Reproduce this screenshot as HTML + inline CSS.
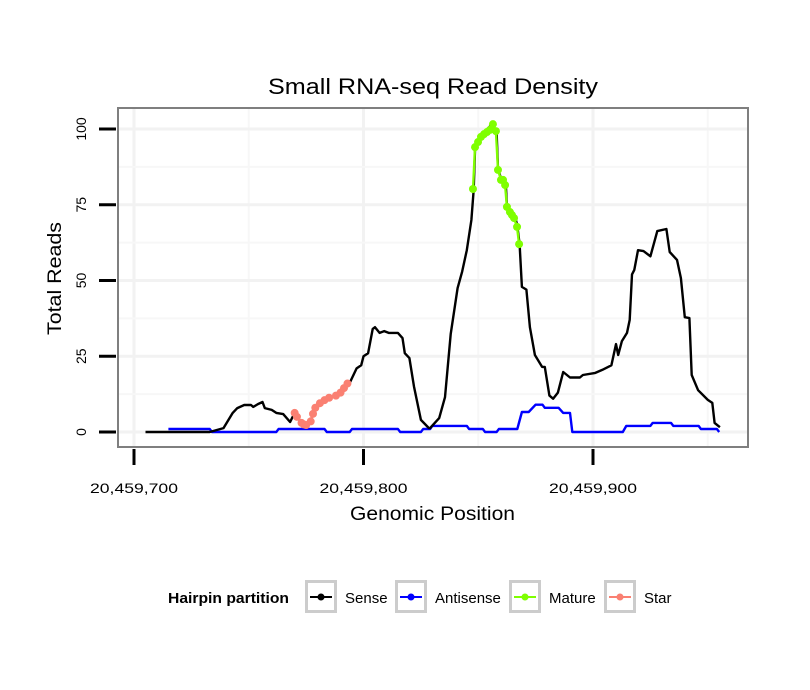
<!DOCTYPE html>
<html><head><meta charset="utf-8"><style>
html,body{margin:0;padding:0;background:#fff;}
svg{display:block;font-family:"Liberation Sans",sans-serif;}
</style></head><body>
<svg id="chart" width="810" height="690" viewBox="0 0 810 690">
<rect width="810" height="690" fill="#fff"/>
<text x="268" y="94" font-size="22" textLength="330" lengthAdjust="spacingAndGlyphs">Small RNA-seq Read Density</text>
<g id="grid"></g>
<g id="series"></g>
<rect x="118" y="108" width="630" height="339" fill="none" stroke="#7f7f7f" stroke-width="2"/>
<g id="axes"></g>
<text x="350" y="520" font-size="19" textLength="165" lengthAdjust="spacingAndGlyphs">Genomic Position</text>
<text transform="translate(61,335) rotate(-90)" font-size="19" textLength="113" lengthAdjust="spacingAndGlyphs">Total Reads</text>
<g id="legend">
<text x="168" y="603" font-size="15" font-weight="bold" textLength="121" lengthAdjust="spacingAndGlyphs">Hairpin partition</text>
</g>
</svg>
<script>
const xBase = 20459700;
const xTicks = [0, 100, 200];
const xTickLabels = ["20,459,700", "20,459,800", "20,459,900"];
const yTicks = [0, 25, 50, 75, 100];
const yTickLabels = ["0", "25", "50", "75", "100"];
const sensePos = [5,33,39,43,45,48,51,52,54,56,57,60,62,65,68,70,71,73,74,75,77,78,79,81,83,85,88,90,91.5,93,94,97,99,100,102,104,105,107,109,111,115,117,118,120,122,125,128.5,129,133,135.5,138,141,143,145,147,148,148.6,151,156,158,158.6,160,162,162.5,166,167,168,169,171,172.5,174.7,177.8,179,181,182.6,184.7,187,190,194.3,195.6,201,204,208,210,211,212.6,214.8,216,217,218,219.6,222,225,228,232,233.4,236.6,238.3,240,242,243,245.8,250,252,253,255.3];
const senseVal = [0,0,1.3,6.3,7.9,8.9,8.9,8.3,9.2,9.9,7.9,7.3,6.3,5.9,3.3,6.3,5,3,2.5,2.3,3.5,6,8,9.5,10.5,11.3,12,13,14.5,16,16.2,21,22,25,26,34,34.6,32.7,33.3,32.7,32.7,31,26,24.4,15,4,1.3,1.3,4.6,11.5,32.3,47.5,53,60,70,80,93,97.7,101.6,99,86.8,83.5,81.8,74.6,71.3,68,62,47.9,47,34.6,25.4,21.5,21.5,12,11,13,19.8,18,18,18.8,19.5,20.5,22,29,25.4,30,32.7,37,52,53.5,60,59.7,58,66.3,67,59.4,56.8,50.8,37.9,37.6,18.8,13.8,10.6,9.6,3,1.6];
const antiPos = [15,33,34,62,63,83,84,94,95,115,116,125,126,129,130,145,146,152,153,158,159,167,169,172,175,178,179,185,187,190,191,213,214.5,225,226,234,235,246,247,254,255];
const antiVal = [1,1,0,0,1,1,0,0,1,1,0,0,1,1,2,2,1,1,0,0,1,1,6.6,6.6,9,9,8,8,6.3,6.3,0,0,2,2,3,3,2,2,1,1,0];
const maturePos = [147.7,148.6,149.9,151.2,152.5,153.8,155.1,156.4,157.7,158.6,159.9,160.8,161.7,162.5,163.8,164.7,165.6,166.9,167.8];
const matureVal = [80.2,94,95.7,97.4,98.3,99,99.7,101.6,99.3,86.5,83.2,83.2,81.5,74.3,72.6,71.6,70.6,67.7,62];
const starPos = [70,71,73,74,75,77,78,79,81,83,85,88,90,91.5,93];
const starVal = [6.3,5,3,2.5,2.3,3.5,6,8,9.5,10.5,11.3,12,13,14.5,16];
const legendLabels = ["Sense","Antisense","Mature","Star"];
const legendColors = ["#000000","#0000ff","#7fff00","#fa8072"];

const NS = "http://www.w3.org/2000/svg";
const X0 = 134, XS = 2.295, Y0 = 432, YS = 3.03;
function xs(p){ return X0 + p*XS; }
function ys(v){ return Y0 - v*YS; }
function mk(tag, attrs, parent){ const e=document.createElementNS(NS,tag); for(const k in attrs) e.setAttribute(k,attrs[k]); parent.appendChild(e); return e; }

const grid = document.getElementById('grid');
for (let i=0;i<xTicks.length;i++){
  for (const off of [0,50]){
    const x = xs(xTicks[i]+off);
    if (x>748) continue;
    const l = mk('line',{x1:x,x2:x,y1:109,y2:446,stroke:off?'#f7f7f7':'#f2f2f2','stroke-width':off?2:3},grid);
    
    
  }
}
for (let i=0;i<yTicks.length;i++){
  for (const off of [0,12.5]){
    const y = ys(yTicks[i]+off);
    if (y<109) continue;
    const l = mk('line',{x1:119,x2:747,y1:y,y2:y,stroke:off?'#f7f7f7':'#f2f2f2','stroke-width':off?2:3},grid);
    
    
  }
}

const series = document.getElementById('series');
function line(pos, val, color, name){
  const pts = pos.map((p,i)=>xs(p).toFixed(1)+','+ys(val[i]).toFixed(1)).join(' ');
  const pl = mk('polyline',{points:pts,fill:'none',stroke:color,'stroke-width':2.4,'stroke-linejoin':'round'},series);
  
  
}
function dots(pos, val, color, name){
  pos.forEach((p,i)=>{
    const c = mk('circle',{cx:xs(p),cy:ys(val[i]),r:4,fill:color},series);
    
    
  });
}
line(antiPos, antiVal, '#0000ff', 'antisense-line');
line(sensePos, senseVal, '#000000', 'sense-line');
line(starPos, starVal, '#fa8072', 'star-line');
dots(starPos, starVal, '#fa8072', 'star-point');
line(maturePos, matureVal, '#7fff00', 'mature-line');
dots(maturePos, matureVal, '#7fff00', 'mature-point');

const axes = document.getElementById('axes');
xTicks.forEach((t,i)=>{
  const x = xs(t);
  const l = mk('line',{x1:x,x2:x,y1:449,y2:465,stroke:'#000','stroke-width':3},axes);
  
  
  const tx = mk('text',{x:x-44,y:493,'font-size':14,textLength:88,lengthAdjust:'spacingAndGlyphs'},axes);
  tx.textContent = xTickLabels[i];
  
  
});
yTicks.forEach((t,i)=>{
  const y = ys(t);
  const l = mk('line',{x1:99,x2:116,y1:y,y2:y,stroke:'#000','stroke-width':3},axes);
  
  
  const tx = mk('text',{transform:'translate(86,'+y+') rotate(-90)','font-size':14,'text-anchor':'middle'},axes);
  tx.textContent = yTickLabels[i];
  
  
});

const legend = document.getElementById('legend');
const boxX = [305,395,509,604];
legendLabels.forEach((lab,i)=>{
  const bx = boxX[i];
  const r = mk('rect',{x:bx+1.5,y:581.5,width:29,height:30,fill:'#fff',stroke:'#cccccc','stroke-width':3},legend);
  
  
  const l = mk('line',{x1:bx+5,x2:bx+27,y1:597,y2:597,stroke:legendColors[i],'stroke-width':2},legend);
  
  
  const c = mk('circle',{cx:bx+16,cy:597,r:3.5,fill:legendColors[i]},legend);
  
  
  const t = mk('text',{x:bx+40,y:603,'font-size':15},legend);
  t.textContent = lab;
  
  
});
</script>
</body></html>
